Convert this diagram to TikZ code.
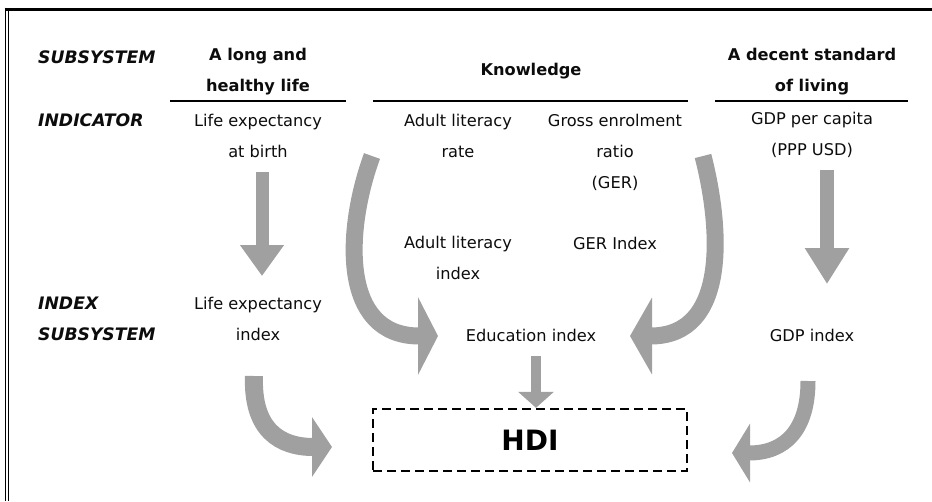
\documentclass[tikz,border=0pt]{standalone}
\usepackage{fontspec}
\setmainfont{DejaVu Sans}
\usepackage{xcolor}
\usetikzlibrary{arrows.meta}
\definecolor{arrowgray}{RGB}{160,160,160}
\definecolor{inkgray}{RGB}{12,12,12}
\tikzset{
  txt/.style={align=center, inner sep=1pt, text=inkgray, font=\fontsize{16.2}{31}\selectfont},
  head/.style={txt, font=\fontsize{16.2}{31}\selectfont\bfseries},
  rowlbl/.style={txt, anchor=west, align=left, inner sep=0pt, font=\fontsize{17.2}{31}\selectfont\bfseries\itshape},
  straw/.style={draw=arrowgray, line width=#1},
  bend/.style={draw=arrowgray, line width=#1, line cap=butt}
}
\begin{document}
\begin{tikzpicture}[x=1pt,y=-1pt]
\useasboundingbox (0,0) rectangle (932,501);
% frame
\draw[line width=3pt] (4.5,9) -- (932,9);
\draw[line width=0.9pt] (5.3,7.5) -- (5.3,501);
\draw[line width=0.9pt] (8,9) -- (8,501);
% row labels
\node[rowlbl](lsub) at (38,57){SUBSYSTEM};
\node[rowlbl](lind) at (38,120){INDICATOR};
\node[rowlbl](lidx) at (38,318.5){INDEX\\SUBSYSTEM};
% subsystems
\node[head](health) at (258,72){A long and\\healthy life};
\node[head](know) at (531,71){Knowledge};
\node[head](living) at (812,72){A decent standard\\of living};
\draw[line width=2pt] (170,101) -- (346,101);
\draw[line width=2pt] (373,101) -- (688,101);
\draw[line width=2pt] (715,101) -- (908,101);
% indicators
\node[txt](lifeexp) at (258,136){Life expectancy\\at birth};
\node[txt](litrate) at (458,136){Adult literacy\\rate};
\node[txt](ger) at (615,152){Gross enrolment\\ratio\\(GER)};
\node[txt](gdppc) at (812,135){GDP per capita\\(PPP USD)};
% indices
\node[txt](litidx) at (458,258){Adult literacy\\index};
\node[txt](geridx) at (615,243){GER Index};
\node[txt](lifeidx) at (258,319){Life expectancy\\index};
\node[txt](eduidx) at (531,335){Education index};
\node[txt](gdpidx) at (812,335){GDP index};
\node[draw, dashed, dash pattern=on 9pt off 5pt, line width=2.4pt, minimum width=314pt, minimum height=62pt,
  text=black, font=\fontsize{28}{30}\selectfont\bfseries](hdi) at (530,440){HDI};
% arrow ends
\coordinate (lifeA) at (262,172);
\coordinate (lifeB) at (262,276);
\coordinate (gdpA) at (827,170);
\coordinate (gdpB) at (827,284);
\coordinate (eduA) at (536,356);
\coordinate (litA) at (372,156);
\coordinate (eduL) at (438,336);
\coordinate (gerA) at (703,156);
\coordinate (eduR) at (630,336);
\coordinate (lifeC) at (254,376);
\coordinate (hdiL) at (332,447);
\coordinate (gdpC) at (808,381);
\coordinate (hdiR) at (732,453);
% arrows
\draw[straw=13pt, -{Triangle[width=42pt,length=31pt]}] (lifeA) -- (lifeB);
\draw[straw=14pt, -{Triangle[width=42pt,length=36pt]}] (gdpA) -- (gdpB);
\draw[straw=10pt, -{Triangle[width=35pt,length=16pt]}] (eduA) -- (hdi.north -| eduA);
\draw[bend=17pt, -{Triangle[width=77pt,length=20pt]}] (litA) .. controls (345,230) and (340,336) .. (eduL);
\draw[bend=17pt, -{Triangle[width=76pt,length=22pt]}] (gerA) .. controls (722,230) and (728,336) .. (eduR);
\draw[bend=18pt, -{Triangle[width=59pt,length=20pt]}] (lifeC) .. controls (252,430) and (280,447) .. (hdiL);
\draw[bend=15pt, -{Triangle[width=58pt,length=18pt]}] (gdpC) .. controls (808,430) and (785,453) .. (hdiR);
\end{tikzpicture}
\end{document}
